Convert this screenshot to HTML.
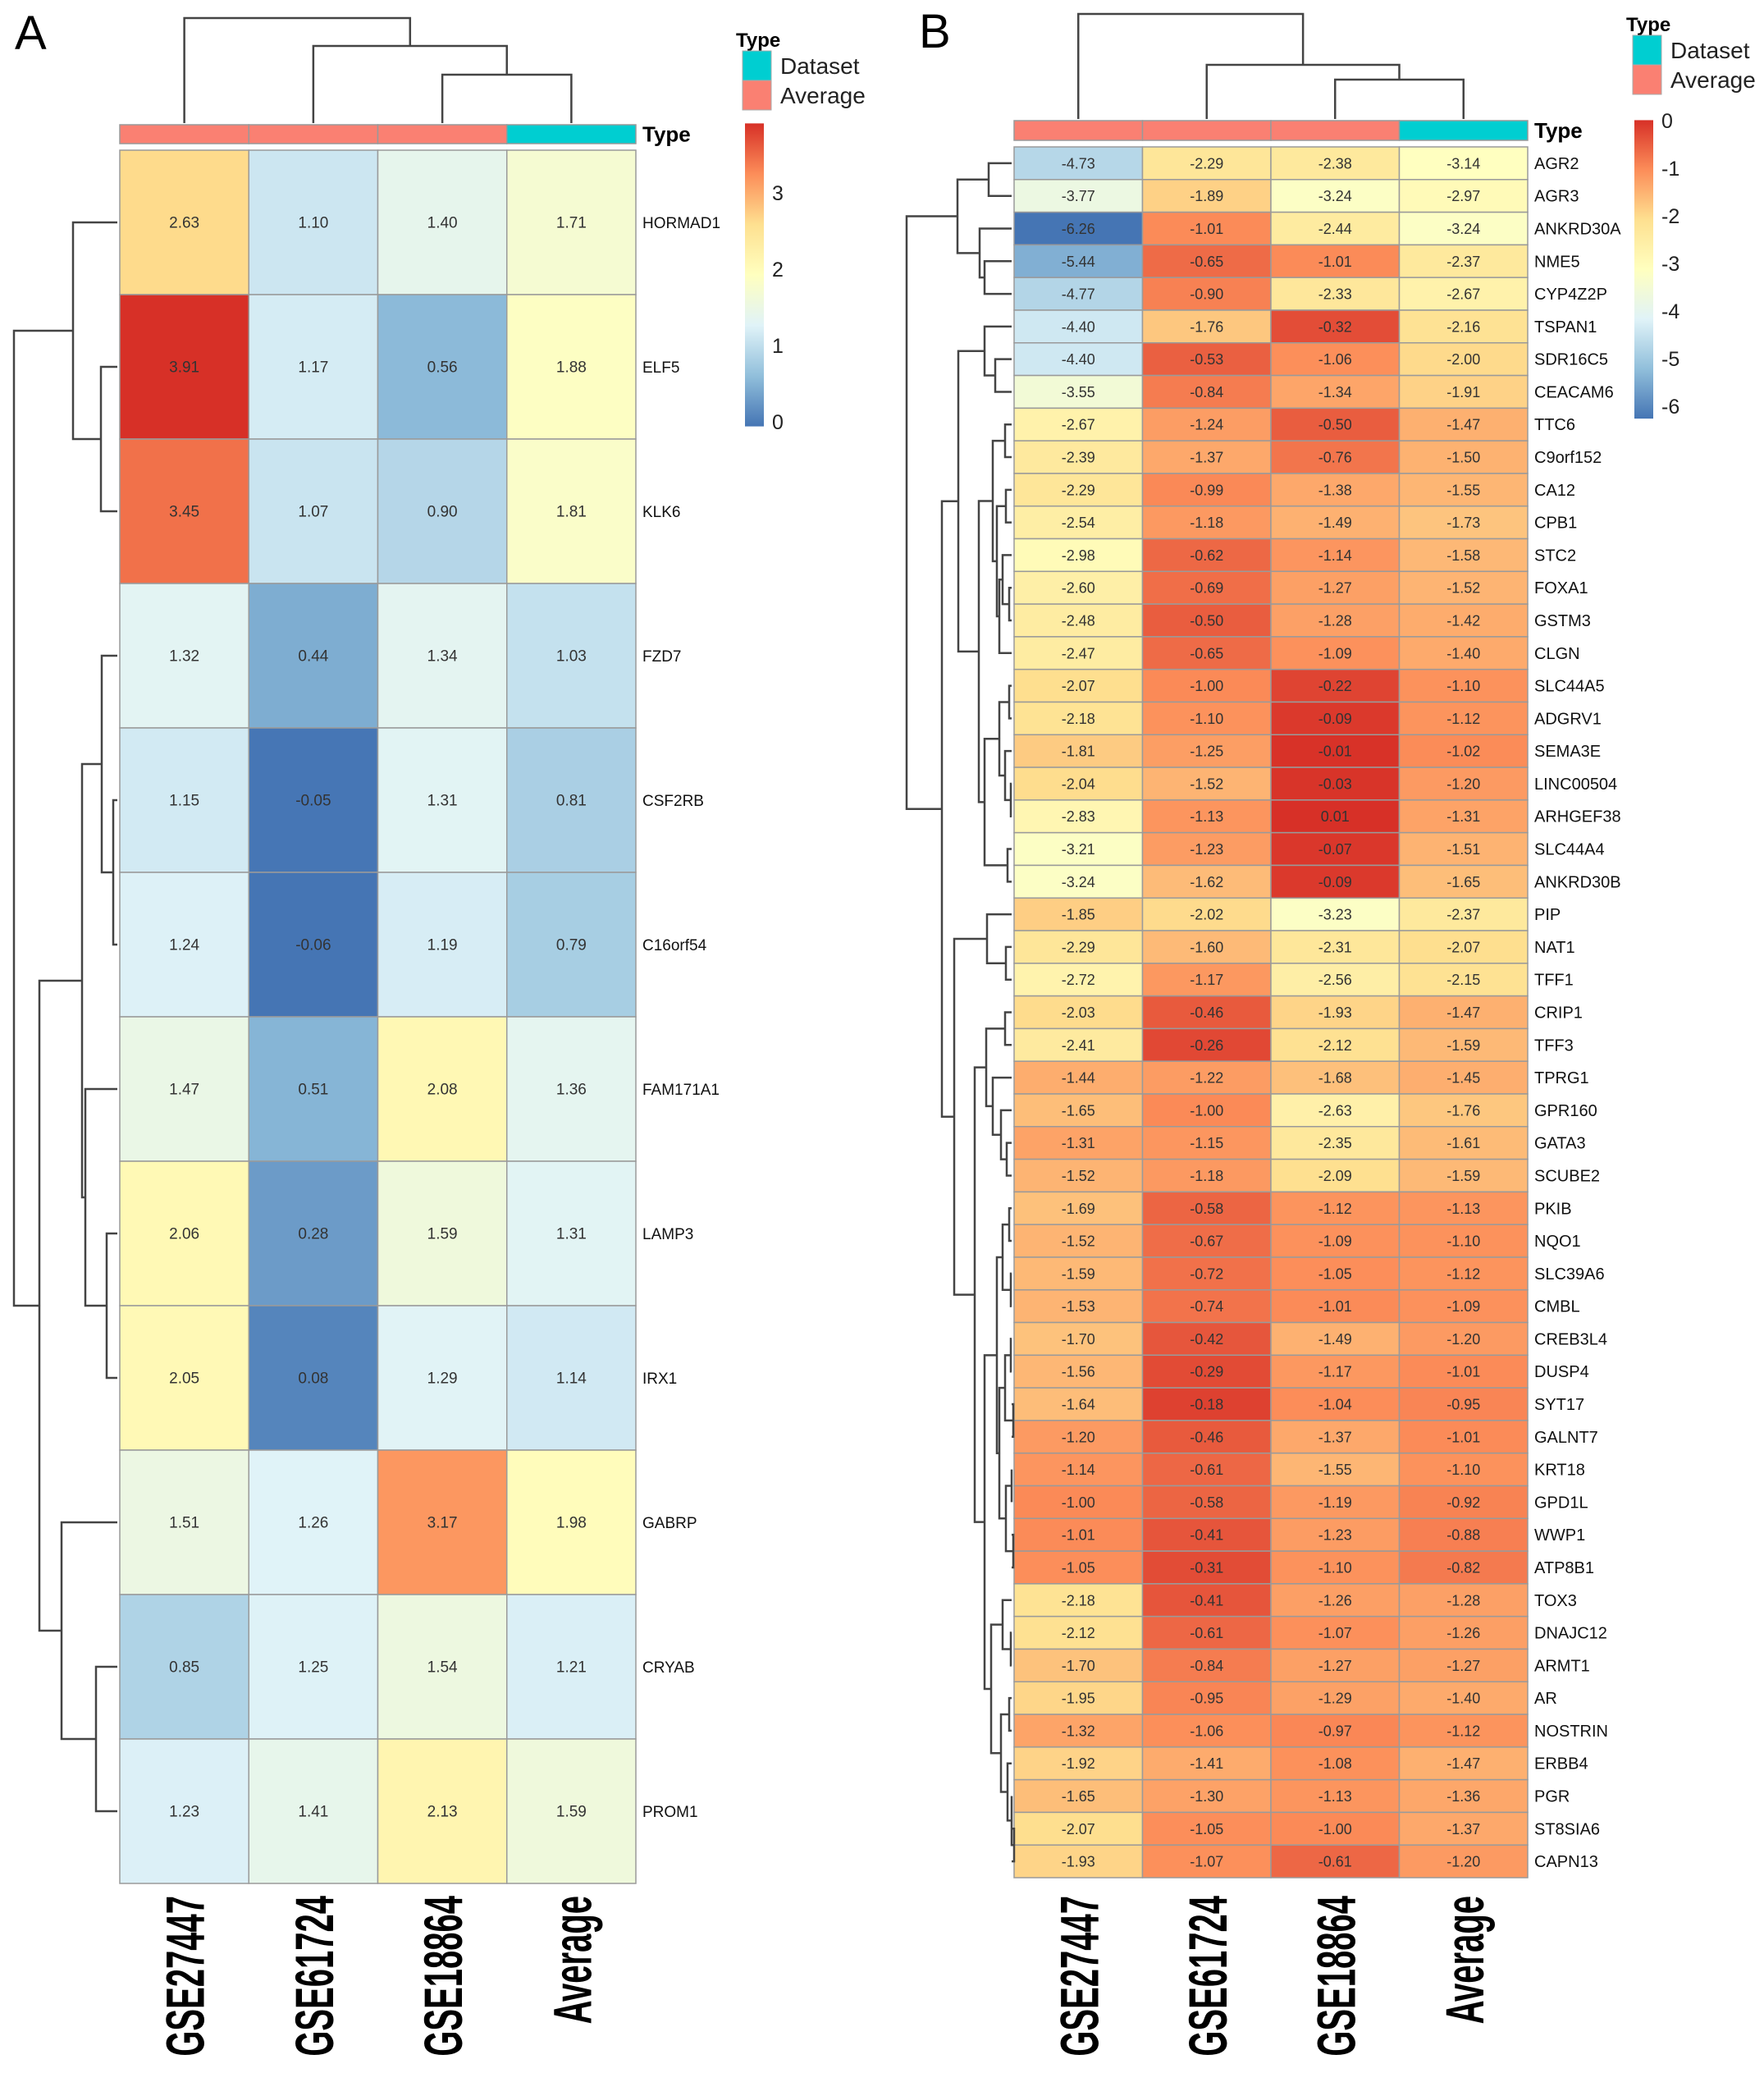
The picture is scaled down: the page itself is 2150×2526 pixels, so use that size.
<!DOCTYPE html>
<html><head><meta charset="utf-8"><style>
html,body{margin:0;padding:0;background:#fff;}
svg{display:block;font-family:"Liberation Sans",Arial,sans-serif;}
</style></head><body>
<svg id="fig" width="2150" height="2526" viewBox="0 0 2150 2526" xmlns="http://www.w3.org/2000/svg"></svg>
<script>
const columns = ["GSE27447","GSE61724","GSE18864","Average"];
const colTypes = ["Average","Average","Average","Dataset"];
const genesA = ["HORMAD1","ELF5","KLK6","FZD7","CSF2RB","C16orf54","FAM171A1","LAMP3","IRX1","GABRP","CRYAB","PROM1"];
const valuesA = [
[2.63,1.10,1.40,1.71],[3.91,1.17,0.56,1.88],[3.45,1.07,0.90,1.81],[1.32,0.44,1.34,1.03],
[1.15,-0.05,1.31,0.81],[1.24,-0.06,1.19,0.79],[1.47,0.51,2.08,1.36],[2.06,0.28,1.59,1.31],
[2.05,0.08,1.29,1.14],[1.51,1.26,3.17,1.98],[0.85,1.25,1.54,1.21],[1.23,1.41,2.13,1.59]];
const genesB = ["AGR2","AGR3","ANKRD30A","NME5","CYP4Z2P","TSPAN1","SDR16C5","CEACAM6","TTC6","C9orf152","CA12","CPB1","STC2","FOXA1","GSTM3","CLGN","SLC44A5","ADGRV1","SEMA3E","LINC00504","ARHGEF38","SLC44A4","ANKRD30B","PIP","NAT1","TFF1","CRIP1","TFF3","TPRG1","GPR160","GATA3","SCUBE2","PKIB","NQO1","SLC39A6","CMBL","CREB3L4","DUSP4","SYT17","GALNT7","KRT18","GPD1L","WWP1","ATP8B1","TOX3","DNAJC12","ARMT1","AR","NOSTRIN","ERBB4","PGR","ST8SIA6","CAPN13"];
const valuesB = [
[-4.73,-2.29,-2.38,-3.14],[-3.77,-1.89,-3.24,-2.97],[-6.26,-1.01,-2.44,-3.24],[-5.44,-0.65,-1.01,-2.37],
[-4.77,-0.90,-2.33,-2.67],[-4.40,-1.76,-0.32,-2.16],[-4.40,-0.53,-1.06,-2.00],[-3.55,-0.84,-1.34,-1.91],
[-2.67,-1.24,-0.50,-1.47],[-2.39,-1.37,-0.76,-1.50],[-2.29,-0.99,-1.38,-1.55],[-2.54,-1.18,-1.49,-1.73],
[-2.98,-0.62,-1.14,-1.58],[-2.60,-0.69,-1.27,-1.52],[-2.48,-0.50,-1.28,-1.42],[-2.47,-0.65,-1.09,-1.40],
[-2.07,-1.00,-0.22,-1.10],[-2.18,-1.10,-0.09,-1.12],[-1.81,-1.25,-0.01,-1.02],[-2.04,-1.52,-0.03,-1.20],
[-2.83,-1.13,0.01,-1.31],[-3.21,-1.23,-0.07,-1.51],[-3.24,-1.62,-0.09,-1.65],[-1.85,-2.02,-3.23,-2.37],
[-2.29,-1.60,-2.31,-2.07],[-2.72,-1.17,-2.56,-2.15],[-2.03,-0.46,-1.93,-1.47],[-2.41,-0.26,-2.12,-1.59],
[-1.44,-1.22,-1.68,-1.45],[-1.65,-1.00,-2.63,-1.76],[-1.31,-1.15,-2.35,-1.61],[-1.52,-1.18,-2.09,-1.59],
[-1.69,-0.58,-1.12,-1.13],[-1.52,-0.67,-1.09,-1.10],[-1.59,-0.72,-1.05,-1.12],[-1.53,-0.74,-1.01,-1.09],
[-1.70,-0.42,-1.49,-1.20],[-1.56,-0.29,-1.17,-1.01],[-1.64,-0.18,-1.04,-0.95],[-1.20,-0.46,-1.37,-1.01],
[-1.14,-0.61,-1.55,-1.10],[-1.00,-0.58,-1.19,-0.92],[-1.01,-0.41,-1.23,-0.88],[-1.05,-0.31,-1.10,-0.82],
[-2.18,-0.41,-1.26,-1.28],[-2.12,-0.61,-1.07,-1.26],[-1.70,-0.84,-1.27,-1.27],[-1.95,-0.95,-1.29,-1.40],
[-1.32,-1.06,-0.97,-1.12],[-1.92,-1.41,-1.08,-1.47],[-1.65,-1.30,-1.13,-1.36],[-2.07,-1.05,-1.00,-1.37],
[-1.93,-1.07,-0.61,-1.20]];
const ticksA = [0,1,2,3];
const ticksB = [0,-1,-2,-3,-4,-5,-6];
// dendrogram merge trees: [height(px position), left, right]; leaves are indices
const rowTreeA = [17,[89,0,[123,1,2]],[48,[100,[124,3,[138,4,5]],[104,6,[130,7,8]]],[75,9,[117,10,11]]]];
const colTreeA = [22,0,[56,1,[91,2,3]]];
const colTreeB = [17,0,[79,1,[97,2,3]]];
const rowTreeB = [1105,
 [1167,[1205,0,1],[1194,2,[1200,3,4]]],
 [1148,
  [1168,[1200,5,[1213,6,7]],
   [1193,[1210,[1225,8,9],[1215,[1226,10,11],[1218,[1222,12,[1230,13,14]],15]]],
    [1200,[1218,[1230,16,17],[1225,18,[1232,19,20]]],[1228,21,22]]]],
  [1163,[1203,23,[1226,24,25]],
   [1188,[1202,[1225,26,27],[1210,28,[1220,29,[1227,30,31]]]],
    [1200,[1215,[1222,[1230,32,33],[1232,34,35]],[1218,[1225,[1232,36,37],[1235,38,39]],[1226,[1233,40,41],[1235,42,43]]]],
     [1208,[1222,44,[1232,45,46]],[1220,[1230,47,48],[1228,49,[1233,50,[1236,51,52]]]]]]]]]];

const NS="http://www.w3.org/2000/svg";
const svg=document.getElementById('fig');
function el(tag,attrs,parent){const e=document.createElementNS(NS,tag);for(const k in attrs)e.setAttribute(k,attrs[k]);(parent||svg).appendChild(e);return e;}
const stops=["#4575B4","#91BFDB","#E0F3F8","#FFFFBF","#FEE090","#FC8D59","#D73027"];
function hex(c){return [1,3,5].map(i=>parseInt(c.substr(i,2),16));}
function colorFor(v,mn,mx){let t=(v-mn)/(mx-mn);t=Math.max(0,Math.min(1,t));const p=t*(stops.length-1);const i=Math.min(Math.floor(p),stops.length-2);const f=p-i;const a=hex(stops[i]),b=hex(stops[i+1]);return "rgb("+a.map((x,k)=>Math.round(x+(b[k]-x)*f)).join(",")+")";}

function panel(cfg){
  const g=el('g',{});
  
  
  const vals=cfg.values.flat();const mn=Math.min(...vals),mx=Math.max(...vals);
  const cw=(cfg.right-cfg.left)/columns.length;
  const rh=(cfg.bottom-cfg.top)/cfg.genes.length;
  const L=el('text',{x:cfg.letterX,y:cfg.letterY,'font-size':58,fill:'#000'},g);L.textContent=cfg.letter;
  
  columns.forEach((c,j)=>{const r=el('rect',{x:cfg.left+j*cw,y:cfg.barTop,width:cw,height:cfg.barH,fill:colTypes[j]==='Dataset'?'#00CED1':'#FA8072',stroke:'#999','stroke-width':1.5},g);
    });
  const ty=el('text',{x:cfg.right+8,y:cfg.barTop+cfg.barH/2+9,'font-size':26,'font-weight':'bold',fill:'#000'},g);ty.textContent='Type';
  
  cfg.genes.forEach((gn,i)=>{
    columns.forEach((c,j)=>{const v=cfg.values[i][j];
      const r=el('rect',{x:cfg.left+j*cw,y:cfg.top+i*rh,width:cw,height:rh,fill:colorFor(v,mn,mx),stroke:'#9a9a9a','stroke-width':1.5},g);
      
      const t=el('text',{x:cfg.left+(j+.5)*cw,y:cfg.top+(i+.5)*rh+6.5,'font-size':cfg.cellFont,'text-anchor':'middle',fill:'#333'},g);t.textContent=v.toFixed(2);
      });
    const lt=el('text',{x:cfg.right+8,y:cfg.top+(i+.5)*rh+7,'font-size':cfg.rowFont,fill:'#111'},g);lt.textContent=gn;
    
  });
  columns.forEach((c,j)=>{const cx=cfg.left+(j+.5)*cw;
    const t=el('text',{x:0,y:0,'font-size':40,'font-weight':'bold','text-anchor':'end',fill:'#000',transform:`translate(${cx+24},2310) rotate(-90) scale(1,1.65)`},g);t.textContent=c;
    });
  const dg=el('g',{stroke:'#444','stroke-width':2.5,fill:'none'},g);
  
  function drawRow(n){if(typeof n==='number')return {x:cfg.left-3,y:cfg.top+(n+.5)*rh};
    const a=drawRow(n[1]),b=drawRow(n[2]);const h=n[0];
    el('path',{d:`M${a.x},${a.y}H${h}V${b.y}H${b.x}`},dg);return {x:h,y:(a.y+b.y)/2};}
  drawRow(cfg.rowTree);
  const cg=el('g',{stroke:'#444','stroke-width':2.5,fill:'none'},g);
  
  function drawCol(n){if(typeof n==='number')return {x:cfg.left+(n+.5)*cw,y:cfg.barTop-2};
    const a=drawCol(n[1]),b=drawCol(n[2]);const h=n[0];
    el('path',{d:`M${a.x},${a.y}V${h}H${b.x}V${b.y}`},cg);return {x:(a.x+b.x)/2,y:h};}
  drawCol(cfg.colTree);
  const lg=el('g',{},g);
  const lt=el('text',{x:cfg.legX-8,y:cfg.legY-5,'font-size':24,'font-weight':'bold',fill:'#000'},lg);lt.textContent='Type';
  [['Dataset','#00CED1'],['Average','#FA8072']].forEach((d,k)=>{
    const r=el('rect',{x:cfg.legX,y:cfg.legY+k*36,width:35,height:36,fill:d[1],stroke:'#aaa','stroke-width':1},lg);
    
    const t=el('text',{x:cfg.legX+46,y:cfg.legY+k*36+28,'font-size':28,fill:'#222'},lg);t.textContent=d[0];
    });
  const gid='grad'+cfg.letter;const defs=el('defs',{},g);const lgr=el('linearGradient',{id:gid,x1:0,y1:1,x2:0,y2:0},defs);
  stops.forEach((s,k)=>el('stop',{offset:k/(stops.length-1),'stop-color':s},lgr));
  const cy=v=>cfg.cbZero-(v-cfg.cbRef)*cfg.cbUnit;
  const cb=el('rect',{x:cfg.cbX,y:cy(mx),width:23,height:cy(mn)-cy(mx),fill:`url(#${gid})`},g);
  
  cfg.ticks.forEach(v=>{const t=el('text',{x:cfg.cbX+33,y:cy(v)+9,'font-size':25,fill:'#222'},g);t.textContent=String(v);
    });
}
panel({name:'heatmap-a',letter:'A',letterX:18,letterY:60,values:valuesA,genes:genesA,left:146,right:775,top:183,bottom:2295,
  barTop:152,barH:23,cellFont:19,rowFont:19,rowTree:rowTreeA,colTree:colTreeA,legX:905,legY:62,cbX:908,cbZero:514,cbRef:0,cbUnit:93,ticks:ticksA});
panel({name:'heatmap-b',letter:'B',letterX:1120,letterY:58,values:valuesB,genes:genesB,left:1236,right:1862,top:179,bottom:2288,
  barTop:147,barH:24,cellFont:18,rowFont:20,rowTree:rowTreeB,colTree:colTreeB,legX:1990,legY:43,cbX:1992,cbZero:147,cbRef:0,cbUnit:58,ticks:ticksB});
</script>
</body></html>
